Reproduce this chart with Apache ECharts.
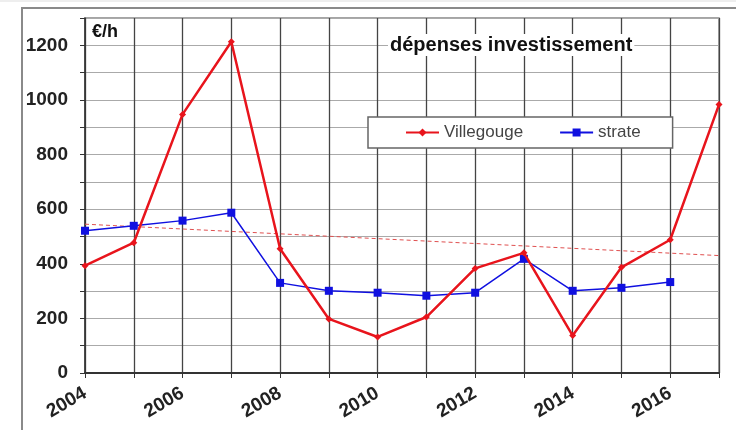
<!DOCTYPE html>
<html><head><meta charset="utf-8">
<script src="https://cdn.jsdelivr.net/npm/echarts@6/dist/echarts.min.js"></script>
<style>html,body{margin:0;padding:0;background:#fff}#c{width:736px;height:430px}</style>
</head><body><div id="c"></div>
<script>
const years = [2004,2005,2006,2007,2008,2009,2010,2011,2012,2013,2014,2015,2016,2017];
const villegouge = [393,477,947,1213,455,198,132,205,383,440,137,387,488,983];
const strate = [521,539,558,587,330,301,294,283,294,418,301,312,333,null];
const trendYears = [2004,2017];
const trendValues = [545,430];
const yTickLabels = [0,200,400,600,800,1000,1200];
const chart = echarts.init(document.getElementById('c'));
const F = '"Liberation Sans", Arial, sans-serif';
chart.setOption({
  animation:false,
  backgroundColor:'#fff',
  graphic:[
    {type:'line',shape:{x1:0,y1:1,x2:736,y2:1},style:{stroke:'#ddd',lineWidth:1},z:-1},
    {type:'rect',shape:{x:22,y:8,width:760,height:440},style:{fill:null,stroke:'#8a8a8a',lineWidth:2},z:-1},
    {type:'text',left:90,top:22,z:10,style:{text:'€/h',font:'bold 18px '+F,fill:'#111',backgroundColor:'#fff',padding:[1,2]}},
    {type:'text',left:388,top:34,z:10,style:{text:'dépenses investissement',font:'bold 20px '+F,fill:'#111',backgroundColor:'#fff',padding:[1,2]}}
  ],
  grid:{left:85,right:17,top:18,bottom:57,show:true,borderColor:'#888',borderWidth:1.5},
  legend:{left:368,top:117,padding:[7,32,7,37],itemGap:36,itemWidth:33,itemHeight:10,
    backgroundColor:'#fff',borderColor:'#666',borderWidth:1.5,
    textStyle:{fontFamily:F,fontSize:17,color:'#444'},
    data:['Villegouge','strate']},
  xAxis:{type:'value',min:2004,max:2017,interval:1,
    axisLine:{lineStyle:{color:'#333',width:2}},
    axisTick:{show:true,length:5,lineStyle:{color:'#333'}},
    splitLine:{show:true,lineStyle:{color:'#444',width:1.3}},
    axisLabel:{rotate:30,margin:19,fontFamily:F,fontWeight:'bold',fontSize:19,color:'#222',
      formatter:v=> (v%2===0 && v<2017) ? String(v) : ''}},
  yAxis:{type:'value',min:0,max:1300,interval:100,
    axisLine:{show:true,lineStyle:{color:'#333',width:1.5}},
    axisTick:{show:true,length:5,lineStyle:{color:'#333'}},
    splitLine:{show:true,lineStyle:{color:'#aaa',width:1}},
    axisLabel:{margin:17,fontFamily:F,fontWeight:'bold',fontSize:19,color:'#222',
      formatter:v=> yTickLabels.includes(v) ? String(v) : ''}},
  series:[
    {name:'trend',type:'line',data:trendYears.map((y,i)=>[y,trendValues[i]]),symbol:'none',
      lineStyle:{color:'#e05050',width:1,type:[4,3]},z:1,silent:true},
    {name:'Villegouge',type:'line',data:years.map((y,i)=>[y,villegouge[i]]),
      symbol:'diamond',symbolSize:7,itemStyle:{color:'#e8141c'},lineStyle:{color:'#e8141c',width:2.5},z:3},
    {name:'strate',type:'line',data:years.map((y,i)=>[y,strate[i]]).filter(d=>d[1]!==null),
      symbol:'rect',symbolSize:8,itemStyle:{color:'#1010e0'},lineStyle:{color:'#1010e0',width:1.5},z:2}
  ]
});
</script></body></html>
